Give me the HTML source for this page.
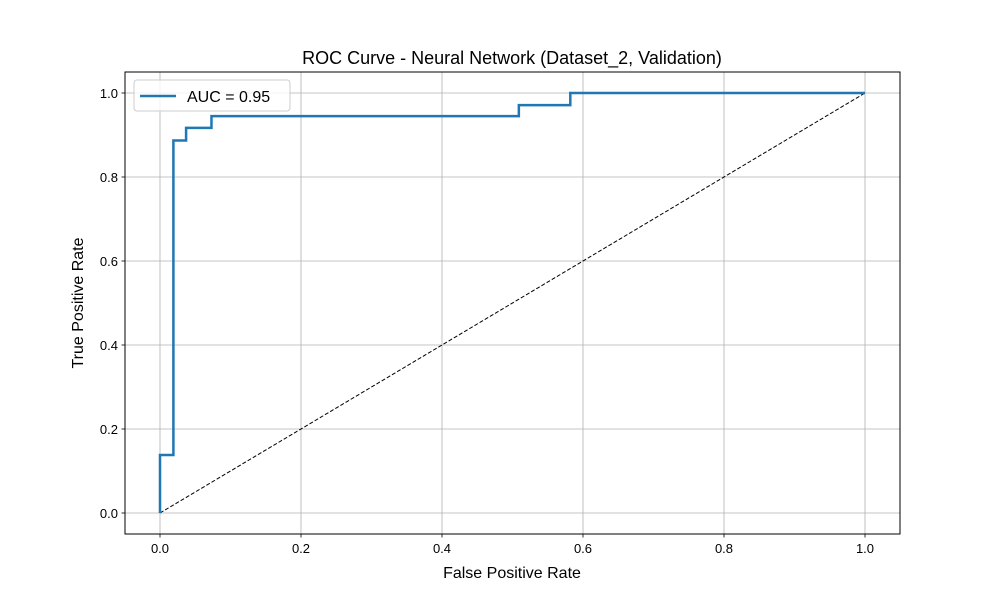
<!DOCTYPE html>
<html><head><meta charset="utf-8"><style>body{margin:0;background:#fff}svg{display:block;font-family:"Liberation Sans","DejaVu Sans",sans-serif}</style></head>
<body>
<svg id="chart" width="1000" height="600" viewBox="0 0 1000 600">
<rect width="1000" height="600" fill="#fff"/>
<g id="grid"></g>
<g id="plot"></g>
<rect x="125" y="72" width="775" height="462" fill="none" stroke="#000" stroke-width="1"/>
<g id="ticks" font-size="13"></g>
<text x="512" y="64" text-anchor="middle" font-size="18">ROC Curve - Neural Network (Dataset_2, Validation)</text>
<text x="512" y="578" text-anchor="middle" font-size="16">False Positive Rate</text>
<text transform="translate(83,303) rotate(-90)" text-anchor="middle" font-size="16">True Positive Rate</text>
<g>
<rect x="134" y="80" width="156" height="31" rx="3" fill="#fff" fill-opacity="0.8" stroke="#ccc"/>
<line x1="140" y1="96" x2="176" y2="96" stroke="#1f77b4" stroke-width="2.5"/>
<text x="187" y="102" font-size="16">AUC = 0.95</text>
</g>
</svg>
<script>
const fpr=[0,0,0.019,0.019,0.037,0.037,0.073,0.073,0.509,0.509,0.582,0.582,1];
const tpr=[0,0.138,0.138,0.887,0.887,0.917,0.917,0.945,0.945,0.971,0.971,1,1];
const xTicks=[0,0.2,0.4,0.6,0.8,1.0];
const yTicks=[0,0.2,0.4,0.6,0.8,1.0];
const ns="http://www.w3.org/2000/svg";
const X=v=>160+v*705, Y=v=>513-v*420;
function mk(t,a,p){const e=document.createElementNS(ns,t);for(const k in a)e.setAttribute(k,a[k]);p.appendChild(e);return e;}
const grid=document.getElementById('grid'),ticks=document.getElementById('ticks'),plot=document.getElementById('plot');
xTicks.forEach(v=>{
 const g=mk('line',{x1:X(v),x2:X(v),y1:72,y2:534,stroke:'#b0b0b0','stroke-width':0.8},grid);
 
 mk('line',{x1:X(v),x2:X(v),y1:534,y2:537.5,stroke:'#000','stroke-width':0.8},ticks);
 const t=mk('text',{x:X(v),y:553,'text-anchor':'middle'},ticks);t.textContent=v.toFixed(1);
 
});
yTicks.forEach(v=>{
 const g=mk('line',{x1:125,x2:900,y1:Y(v),y2:Y(v),stroke:'#b0b0b0','stroke-width':0.8},grid);
 
 mk('line',{x1:121.5,x2:125,y1:Y(v),y2:Y(v),stroke:'#000','stroke-width':0.8},ticks);
 const t=mk('text',{x:118,y:Y(v)+5,'text-anchor':'end'},ticks);t.textContent=v.toFixed(1);
 
});
const d=mk('line',{x1:X(0),y1:Y(0),x2:X(1),y2:Y(1),stroke:'#000','stroke-width':1,'stroke-dasharray':'4,2'},plot);

const p=mk('polyline',{points:fpr.map((v,i)=>X(v)+','+Y(tpr[i])).join(' '),fill:'none',stroke:'#1f77b4','stroke-width':2.5},plot);

</script>
</body></html>
